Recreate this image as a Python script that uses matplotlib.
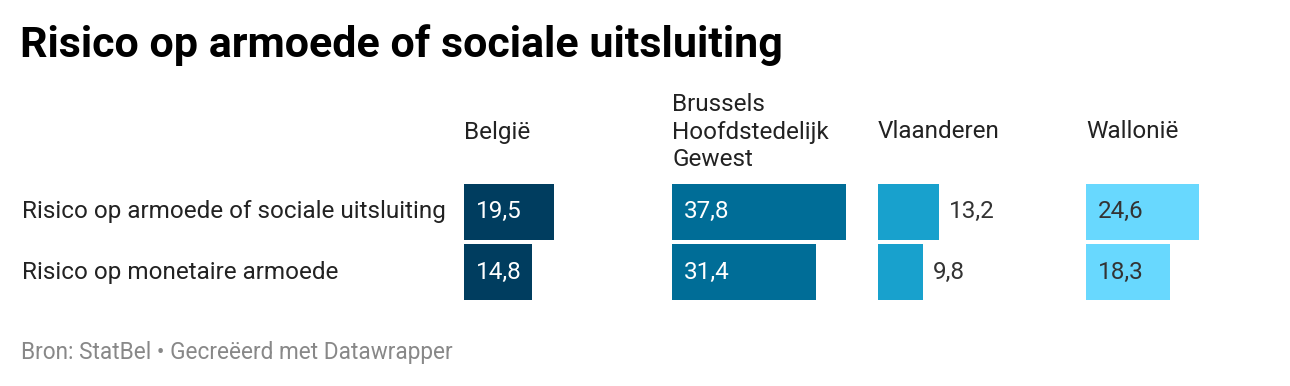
import matplotlib.pyplot as plt

plt.rcParams['font.family'] = ['Roboto', 'DejaVu Sans']

# Data
rows = ['Risico op armoede of sociale uitsluiting', 'Risico op monetaire armoede']
regions = ['België', 'Brussels\nHoofdstedelijk\nGewest', 'Vlaanderen', 'Wallonië']
values = [
    [19.5, 14.8],
    [37.8, 31.4],
    [13.2, 9.8],
    [24.6, 18.3],
]
colors = ['#003d5f', '#006d97', '#18a1cd', '#68d8fe']
label_colors = ['white', 'white', '#333333', '#333333']
label_inside = [True, True, False, True]

W, H = 1290, 386
fig = plt.figure(figsize=(W / 100, H / 100), dpi=100)


def fx(px):
    return px / W


def fy(py):
    return 1 - py / H


# title and footer
fig.text(fx(20), fy(45), 'Risico op armoede of sociale uitsluiting',
         fontsize=31, fontweight='bold', va='center', ha='left', color='#000000')
fig.text(fx(21), fy(352), 'Bron: StatBel • Gecreëerd met Datawrapper',
         fontsize=16.3, color='#888888', va='center', ha='left')

# row labels
for i, r in enumerate(rows):
    fig.text(fx(22), fy(211 + i * 61), r, fontsize=17.5, color='#222222',
             va='center', ha='left')

lefts = [464, 672, 878, 1086]
panel_w = 190
px_per_unit = 4.6
xmax = panel_w / px_per_unit

for k, reg in enumerate(regions):
    ax = fig.add_axes([fx(lefts[k]), fy(300), panel_w / W, 116 / H])
    ax.barh(range(len(rows)), values[k], height=0.92, color=colors[k])
    ax.set_xlim(0, xmax)
    ax.set_ylim(1.46, -0.46)
    ax.axis('off')
    for i, v in enumerate(values[k]):
        txt = f'{v:.1f}'.replace('.', ',')
        if label_inside[k]:
            ax.annotate(txt, (0, i), xytext=(8.6, 0), textcoords='offset points',
                        va='center', ha='left', fontsize=17.5, color=label_colors[k])
        else:
            ax.annotate(txt, (v, i), xytext=(7, 0), textcoords='offset points',
                        va='center', ha='left', fontsize=17.5, color='#333333')
    # column header
    fig.text(fx(lefts[k]), fy(132), reg, fontsize=17.5, color='#222222',
             va='center', ha='left', linespacing=1.27)

fig.savefig('out.png', dpi=100)
